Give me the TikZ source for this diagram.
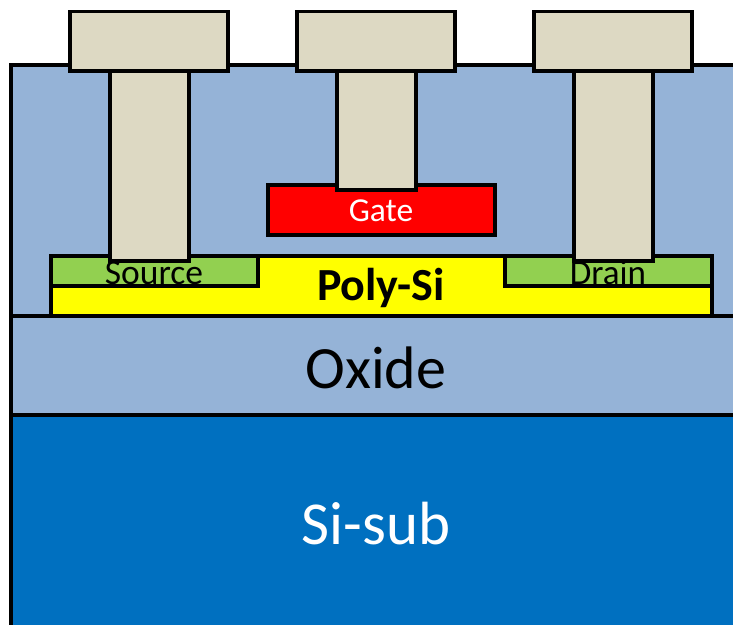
\documentclass[tikz,border=0pt]{standalone}
\usepackage{fontspec}
\setmainfont{Carlito}
\definecolor{oxidecol}{HTML}{95B3D7}
\definecolor{subcol}{HTML}{0070C0}
\definecolor{metalcol}{HTML}{DDD9C3}
\definecolor{dopedcol}{HTML}{92D050}
\definecolor{polycol}{HTML}{FFFF00}
\tikzset{
  layer/.style={draw=black, line width=3.3pt},
  metal/.style={layer, fill=metalcol},
}
\newcommand{\lbl}[1]{\fontsize{#1}{#1}\selectfont}
\begin{document}
\begin{tikzpicture}[x=1pt,y=-1pt]
\useasboundingbox (0,0) rectangle (733,624);
\path[fill=white] (0,0) rectangle (733,624);
% layers
\draw[layer, fill=subcol] (11,415) rectangle (745,640);
\draw[layer, fill=oxidecol] (11,316) rectangle (745,415);
\draw[layer, fill=oxidecol] (11,65) rectangle (745,316);
% channel and contacts
\draw[layer, fill=polycol] (51,256) rectangle (712,316);
\draw[layer, fill=dopedcol] (51,256) rectangle (258,286);
\draw[layer, fill=dopedcol] (505,256) rectangle (712,286);
\draw[layer, fill=red] (268,185) rectangle (495,235);
% labels
\node (source) at (154,273) {\lbl{35.5}Source};
\node (drain) at (608,273) {\lbl{35}Drain};
\node[text=white] (gate) at (381,211) {\lbl{33.5}Gate};
\node (polysi) at (381,288) {\lbl{46}\bfseries Poly-Si};
\node (oxide) at (376,368) {\lbl{60}Oxide};
\node[text=white] (sisub) at (376,524) {\lbl{61}Si-sub};
% pillars
\draw[metal] (110,71) rectangle (189,261);
\draw[metal] (337,71) rectangle (416,190);
\draw[metal] (574,71) rectangle (653,261);
% pads
\draw[metal] (70,11.5) rectangle (228,71);
\draw[metal] (297,11.5) rectangle (455,71);
\draw[metal] (534,11.5) rectangle (692,71);
\end{tikzpicture}
\end{document}
